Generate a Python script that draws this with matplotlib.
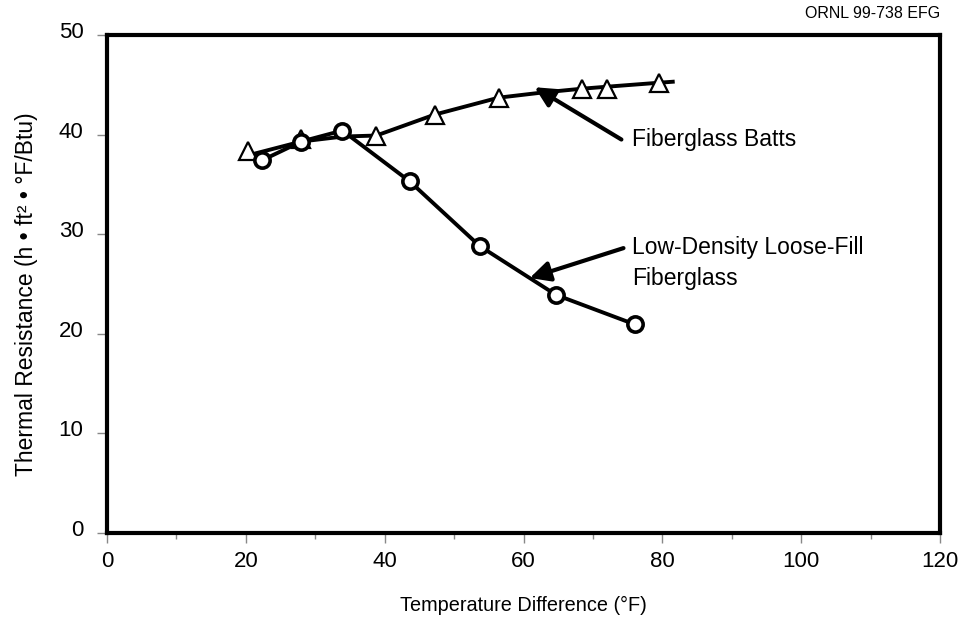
import numpy as np
import matplotlib
matplotlib.use("Agg")
import matplotlib.pyplot as plt
from matplotlib.transforms import ScaledTranslation

plt.rcParams['font.family'] = ['Liberation Sans', 'DejaVu Sans']

# fiberglass batts (triangles)
batts_x = [20.3, 28.0, 38.8, 47.2, 56.4, 68.4, 72.0, 79.5]
batts_y = [38.3, 39.6, 39.9, 42.0, 43.7, 44.6, 44.6, 45.2]
# curve drawn through the batts data
batts_curve_x = [20.8, 28.0, 34.0, 38.8, 47.2, 56.4, 62.5, 68.4, 72.0, 79.5, 81.5]
batts_curve_y = [38.0, 39.3, 39.8, 39.9, 42.0, 43.7, 44.2, 44.6, 44.8, 45.2, 45.3]

# low-density loose-fill fiberglass (circles)
loose_x = [22.3, 28.0, 33.9, 43.6, 53.7, 64.7, 76.0]
loose_y = [37.4, 39.3, 40.4, 35.3, 28.8, 23.9, 20.95]

xticks = [0, 20, 40, 60, 80, 100, 120]
yticks = [0, 10, 20, 30, 40, 50]

fig = plt.figure(figsize=(9.59, 6.18), dpi=100)
ax = fig.add_axes([0.1116, 0.1375, 0.8686, 0.806])

ax.plot(batts_curve_x, batts_curve_y, color='black', lw=2.8, zorder=2)
ax.plot(batts_x, batts_y, ls='none', marker='^', ms=12.5, mfc='white',
        mec='black', mew=1.6, zorder=3)
ax.plot(loose_x, loose_y, color='black', lw=2.8, marker='o', ms=11,
        mfc='white', mec='black', mew=2.6, zorder=4)

arrow = dict(arrowstyle='-|>', color='black', lw=3, mutation_scale=30,
             shrinkA=0, shrinkB=0)
ax.annotate('', xy=(61.6, 44.75), xytext=(74.1, 39.5), arrowprops=arrow, zorder=5)
ax.annotate('', xy=(60.9, 25.6), xytext=(74.4, 28.6), arrowprops=arrow, zorder=5)

ax.text(75.6, 39.5, 'Fiberglass Batts', fontsize=16.5, va='center', ha='left')
ax.text(75.6, 27.1, 'Low-Density Loose-Fill\nFiberglass', fontsize=16.5,
        va='center', ha='left', linespacing=1.45)

ax.set_xlim(0, 120)
ax.set_ylim(0, 50)
ax.set_xticks(xticks)
ax.set_yticks(yticks)
ax.set_xticks(np.arange(10, 120, 20), minor=True)
ax.tick_params(axis='both', which='major', length=7, width=1, color='#888888',
               labelsize=16)
ax.tick_params(axis='x', which='major', pad=6)
ax.tick_params(axis='y', which='major', pad=10)
ax.tick_params(axis='x', which='minor', length=4, width=1, color='#888888')

# y tick labels sit a little above their ticks
up = ScaledTranslation(0, 5 / 100, fig.dpi_scale_trans)
for lab in ax.get_yticklabels():
    lab.set_transform(lab.get_transform() + up)

for s in ax.spines.values():
    s.set_linewidth(3)
    s.set_color('black')

ax.set_xlabel('Temperature Difference (°F)', fontsize=14.3, labelpad=17)
ax.set_ylabel('Thermal Resistance (h • ft² • °F/Btu)', fontsize=16.5, labelpad=15)
ax.yaxis.label.set_y(0.48)

fig.text(0.98, 0.978, 'ORNL 99-738 EFG', fontsize=11.5, ha='right', va='center')

fig.savefig('out.png', dpi=100)
